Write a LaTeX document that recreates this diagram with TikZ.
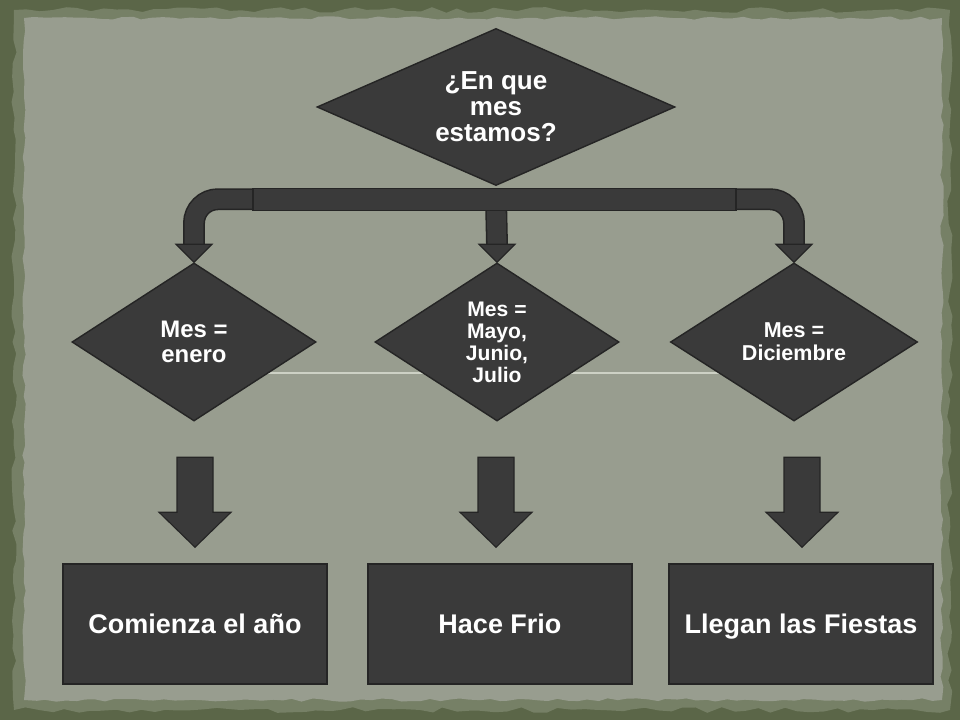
\documentclass[tikz,border=0pt]{standalone}
\usepackage{fontspec}
\setmainfont{Liberation Sans}
\usepackage{tikz}
\usepackage{xcolor}
\usetikzlibrary{shapes.geometric,calc,backgrounds,decorations.pathmorphing}

\definecolor{frame}{HTML}{5B6648}
\definecolor{fringe}{HTML}{768066}
\definecolor{paper}{HTML}{989D8F}
\definecolor{slate}{HTML}{3A3A3A}
\definecolor{slateedge}{HTML}{252525}
\definecolor{seam}{HTML}{CDD1C5}

\begin{document}
\begin{tikzpicture}[x=0.025cm, y=-0.025cm,
	rombo/.style={diamond, fill=slate, draw=slateedge, line width=1pt, inner sep=0pt, text=white, align=center},
	caja/.style={rectangle, fill=slate, draw=slateedge, line width=1pt, minimum width=187.8pt, minimum height=85.4pt, text height=13.8pt, text depth=0pt, text=white, font=\bfseries\fontsize{19.2}{22}\selectfont},
	blk/.style={fill=slate, draw=slateedge, line width=0.8pt}]

		\useasboundingbox (0,0) rectangle (960,720);

		%question
		\node[rombo, minimum width=254.6pt, minimum height=111.7pt, aspect=2.28, font=\bfseries\fontsize{18.5}{18.5}\selectfont] (pregunta) at (496,107) {¿En que\\mes\\estamos?};

		%months
		\node[rombo, minimum width=173.6pt, minimum height=112.4pt, aspect=1.55, font=\bfseries\fontsize{17}{17.8}\selectfont] (mesA) at (194,342) {Mes =\\enero};
		\node[rombo, minimum width=173.6pt, minimum height=112.4pt, aspect=1.55, font=\bfseries\fontsize{15}{15.6}\selectfont] (mesB) at (497,342) {Mes =\\Mayo,\\Junio,\\Julio};
		\node[rombo, minimum width=175.7pt, minimum height=112.4pt, aspect=1.55, font=\bfseries\fontsize{15.3}{16.4}\selectfont] (mesC) at (794,342) {Mes =\\Diciembre};

		%results
		\node[caja] (cajaA) at (195,624) {Comienza el año};
		\node[caja] (cajaB) at (500,624) {Hace Frio};
		\node[caja] (cajaC) at (801,624) {Llegan las Fiestas};

		%pipe from the question to the months
		\coordinate (bar) at ($(pregunta.south)+(0,13)$);
		\foreach \w/\c in {15.6pt/slateedge, 13.4pt/slate}{
			\draw[line width=\w, draw=\c, rounded corners=17pt] ($(mesA.north)+(0,-18)$) |- (bar) -| ($(mesC.north)+(0,-18)$);
			\draw[line width=\w, draw=\c] (bar) -- ($(mesB.north)+(0,-18)$);
		}
		\filldraw[blk] ($(bar)+(-243,-11)$) rectangle ($(bar)+(240,11)$);
		\foreach \n in {A,B,C}
		\filldraw[blk] (mes\n.north) -- ++(-18,-18) -- ++(36,0) -- cycle;

		%block arrows
		\foreach \n/\dx in {A/0,B/-4,C/1}
		\filldraw[blk] ($(caja\n.north)+(\dx,-16)$) -- ++(36,-35) -- ++(-18,0) -- ++(0,-55) -- ++(-36,0) -- ++(0,55) -- ++(-18,0) -- cycle;

		%paper
		\begin{scope}[on background layer]
		\fill[frame] (0,0) rectangle (960,720);
		\pgfmathsetseed{7}
		\fill[fringe, decorate, decoration={random steps, segment length=9pt, amplitude=2pt}] (14,10) -- (950,10) -- (950,710) -- (14,710) -- cycle;
		\fill[paper, decorate, decoration={random steps, segment length=7pt, amplitude=1.2pt}] (24,18) -- (942,18) -- (942,700) -- (24,700) -- cycle;
		\draw[seam, line width=0.8pt] ($(mesA.center)+(0,31)$) -- ($(mesC.center)+(0,31)$);
		\end{scope}

	\end{tikzpicture}
\end{document}
